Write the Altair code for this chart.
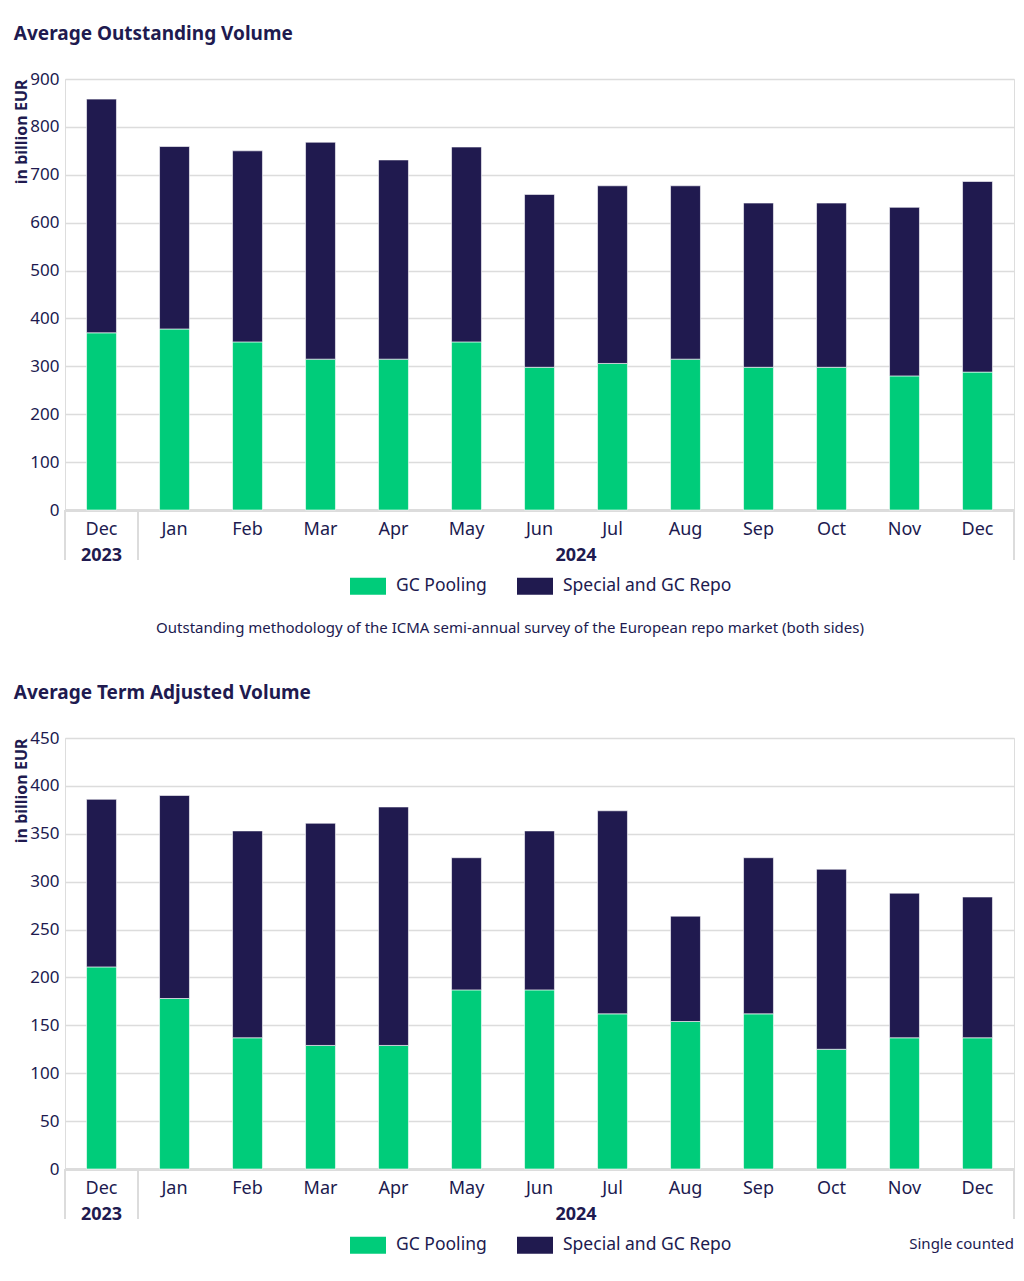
import altair as alt
import pandas as pd

# ---------------- data ----------------
months = ["Dec", "Jan", "Feb", "Mar", "Apr", "May", "Jun", "Jul", "Aug", "Sep", "Oct", "Nov", "Dec"]
years = ["2023"] + ["2024"] * 12
series_names = ["GC Pooling", "Special and GC Repo"]

outstanding_gc = [370, 378, 351, 315, 315, 351, 298, 306, 315, 298, 298, 280, 288]
outstanding_special = [488, 381, 399, 453, 416, 407, 361, 371, 362, 343, 343, 352, 398]
outstanding_ticks = [0, 100, 200, 300, 400, 500, 600, 700, 800, 900]

term_gc = [211, 178, 137, 129, 129, 187, 187, 162, 154, 162, 125, 137, 137]
term_special = [175, 212, 216, 232, 249, 138, 166, 212, 110, 163, 188, 151, 147]
term_ticks = [0, 50, 100, 150, 200, 250, 300, 350, 400, 450]

title_top = "Average Outstanding Volume"
title_bottom = "Average Term Adjusted Volume"
y_title = "in billion EUR"
note_top = "Outstanding methodology of the ICMA semi-annual survey of the European repo market (both sides)"
note_bottom = "Single counted"

# ---------------- style ----------------
GREEN = "#00CC7A"
NAVY = "#201A4F"
GRID = "#DCDCDC"
TEXT = "#201A4F"
FONT = "Noto Sans"
W = 949
H = 431

keys = [f"{m} {y}" for m, y in zip(months, years)]
n = len(keys)

# year groups (contiguous runs)
grp_year, grp_start, grp_end = [], [], []
for i, y in enumerate(years):
    if not grp_year or grp_year[-1] != y:
        grp_year.append(y)
        grp_start.append(i)
        grp_end.append(i + 1)
    else:
        grp_end[-1] = i + 1
groups_df = pd.DataFrame({"year": grp_year,
                          "mid": [(s + e) / 2 for s, e in zip(grp_start, grp_end)]})
bounds_df = pd.DataFrame({"b": sorted(set(grp_start + grp_end))})


def panel(gc, sp, ticks, title, note, note_x, note_y, note_align):
    rows = []
    for i, k in enumerate(keys):
        rows.append({"key": k, "series": series_names[0], "value": gc[i], "ord": 0})
        rows.append({"key": k, "series": series_names[1], "value": sp[i], "ord": 1})
    df = pd.DataFrame(rows)

    bars = alt.Chart(df).mark_bar(stroke="#FFFFFF", strokeWidth=0.6).encode(
        x=alt.X("key:N", sort=keys,
                scale=alt.Scale(domain=keys, paddingInner=0.59, paddingOuter=0.295),
                axis=alt.Axis(title=None, labelExpr="split(datum.value, ' ')[0]",
                              labelAngle=0, ticks=False, domainColor=GRID, domainWidth=3,
                              labelFontSize=18, labelColor=TEXT, labelFont=FONT,
                              labelPadding=10, grid=False)),
        y=alt.Y("value:Q", stack="zero",
                scale=alt.Scale(domain=[ticks[0], ticks[-1]], nice=False),
                axis=alt.Axis(title=y_title, values=ticks, domain=False, ticks=False,
                              grid=True, gridColor=GRID, gridWidth=1.5,
                              labelFontSize=17, labelColor=TEXT, labelFont=FONT,
                              labelPadding=6, titleFont=FONT, titleFontSize=16,
                              titleFontWeight="bold", titleColor=TEXT,
                              titleAnchor="end", titlePadding=0)),
        color=alt.Color("series:N",
                        scale=alt.Scale(domain=series_names, range=[GREEN, NAVY]),
                        legend=alt.Legend(title=None, orient="none", direction="horizontal",
                                          legendX=285, legendY=489,
                                          symbolType="M-1,-0.47H1V0.47H-1Z",
                                          symbolSize=1296, symbolStrokeWidth=0,
                                          symbolOpacity=1, labelFontSize=17.5,
                                          labelColor=TEXT, labelFont=FONT, labelLimit=400,
                                          labelOffset=10, columnPadding=30)),
        order=alt.Order("ord:Q"),
    )

    xq = alt.Scale(domain=[0, n], nice=False, zero=False)
    year_text = alt.Chart(groups_df).mark_text(
        fontWeight="bold", fontSize=18, color=TEXT, font=FONT, baseline="middle"
    ).encode(x=alt.X("mid:Q", scale=xq, axis=None), y=alt.value(H + 46), text="year:N")

    seps = alt.Chart(bounds_df).mark_rule(color=GRID, strokeWidth=2).encode(
        x=alt.X("b:Q", scale=xq, axis=None), y=alt.value(H), y2=alt.value(H + 50))

    note_layer = alt.Chart(pd.DataFrame({"t": [note]})).mark_text(
        fontSize=15, color=TEXT, font=FONT, align=note_align, baseline="middle"
    ).encode(x=alt.value(note_x), y=alt.value(note_y), text="t:N")

    return alt.layer(bars, seps, year_text, note_layer).resolve_scale(x="independent").properties(
        width=W, height=H,
        title=alt.TitleParams(title, anchor="start", fontSize=19, fontWeight="bold",
                              color=TEXT, font=FONT, offset=26))


top = panel(outstanding_gc, outstanding_special, outstanding_ticks, title_top,
            note_top, 445, 549, "center")
bottom = panel(term_gc, term_special, term_ticks, title_bottom,
               note_bottom, W, 506, "right")

chart = alt.vconcat(top, bottom, spacing=46).resolve_scale(color="independent").properties(
    padding={"left": 5, "top": 16, "right": 0, "bottom": 0}
).configure_view(stroke=None).configure(font=FONT)

chart.save("out.html", embed_options={"renderer": "svg", "actions": False})
